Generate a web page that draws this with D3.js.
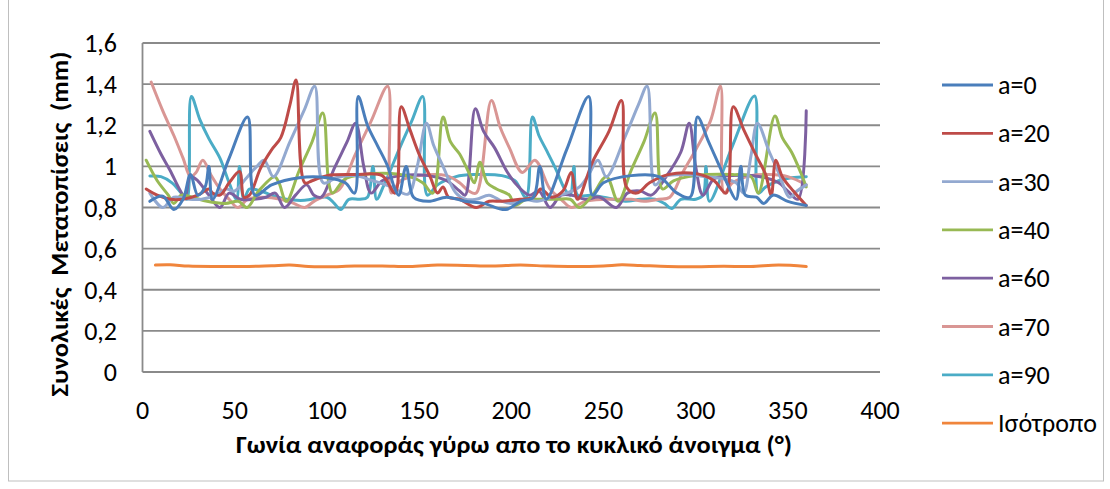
<!DOCTYPE html>
<html><head><meta charset="utf-8">
<script src="https://cdn.jsdelivr.net/npm/d3@7"></script>
<style>
html,body{margin:0;padding:0;background:#fff;}
svg text{font-family:Carlito, Calibri, "Liberation Sans", Arial, sans-serif;fill:#000;white-space:pre;}
</style></head>
<body><svg id="chart" width="1110" height="489"></svg>
<script>
// ---- data ----
const seriesNames = ["a=0","a=20","a=30","a=40","a=60","a=70","a=90","Ισότροπο"];
const seriesColors = ["#4A7EBB","#BE4B48","#93A9D0","#98B954","#7D60A0","#D99694","#4BACC6","#F0853C"];
const xTicks = [0,50,100,150,200,250,300,350,400];
const yTicks = [0,0.2,0.4,0.6,0.8,1,1.2,1.4,1.6];
const yTickLabels = ["0","0,2","0,4","0,6","0,8","1","1,2","1,4","1,6"];
const xTitle = "Γωνία αναφοράς γύρω απο το κυκλικό άνοιγμα (°)";
const yTitle = "Συνολικές  Μετατοπίσεις  (mm)";

const a0 = [[4,0.83],[11,0.855],[17,0.79],[22,0.84],[26,0.96],[30,0.86],[34,0.9],[36,1.0],[38,0.84],[47,1.04],[57,1.24],[61,0.86],[70,0.91],[85,0.945],[100,0.945],[110,0.92],[115,0.87],[117,1.34],[122,1.2],[127.5,1.1],[133,1.0],[136.5,0.9],[139,0.86],[143,1.0],[147,0.85],[155,0.83],[165,0.85],[175,0.83],[185,0.82],[197,0.79],[205,0.83],[212,0.85],[215.5,1.0],[219,0.84],[230,1.08],[242,1.34],[244,0.86],[250,0.92],[265,0.955],[280,0.95],[290,0.87],[297,0.85],[301,1.24],[307,1.12],[313,1.0],[318,0.9],[322,0.84],[324.5,1.0],[327,0.86],[333,0.85],[337,0.82],[342,0.86],[350,0.83],[360,0.81]];
const a20 = [[2,0.89],[8,0.86],[15,0.84],[22,0.84],[30,0.86],[36,0.89],[38,0.87],[42,0.86],[47,0.92],[52.6,0.975],[55,0.85],[58,0.86],[64,0.99],[70,1.08],[75,1.14],[80,1.3],[83.3,1.42],[88,0.92],[92,0.93],[100,0.955],[115,0.96],[130,0.955],[137,0.87],[140.3,1.29],[145,1.18],[150,1.06],[156,0.95],[160,0.87],[163,0.9],[166,0.85],[172,0.84],[181,0.80],[188,0.83],[195,0.83],[205,0.84],[212,0.85],[216,0.89],[222,0.85],[228,0.88],[232.5,0.97],[236,0.84],[244,1.02],[253,1.17],[259.8,1.32],[262.5,0.9],[268,0.87],[275,0.92],[285,0.96],[300,0.965],[310,0.93],[316.5,0.87],[320.4,1.29],[326,1.18],[333,1.05],[338,0.96],[341,0.86],[343.5,1.03],[347,0.95],[353,0.88],[360,0.81]];
const a30 = [[4,0.87],[11,0.80],[17,0.85],[25,0.84],[32,0.84],[40,0.86],[45.5,0.89],[50,0.88],[56,0.94],[62,1.0],[66,1.03],[71,0.95],[80,1.12],[88,1.28],[93.4,1.39],[98,0.92],[105,0.945],[115,0.955],[125,0.93],[135,0.9],[144,0.865],[149,1.0],[154,1.21],[158,1.1],[163,1.0],[170,0.87],[175,0.84],[181,0.84],[188,0.86],[195,0.83],[200,0.82],[207,0.84],[214,0.83],[222,0.85],[230,0.87],[237,0.9],[242,0.96],[247,1.03],[251.6,0.95],[262,1.15],[269,1.3],[273.7,1.39],[278,0.91],[283,0.95],[295,0.96],[305,0.95],[315,0.94],[322,0.92],[326,0.87],[330,1.05],[333.5,1.21],[340,1.07],[345,0.97],[351,0.85],[355,0.88],[360,0.91]];
const a40 = [[2,1.03],[8,0.93],[14,0.86],[17,0.82],[21,0.86],[27,0.85],[35,0.83],[45,0.82],[52,0.83],[56.7,0.80],[63,0.88],[71.6,0.95],[74,0.92],[78,0.83],[85,0.98],[92,1.12],[97.8,1.26],[101,0.92],[103,0.87],[110,0.94],[120,0.96],[135,0.965],[145,0.95],[152,0.92],[157.5,0.87],[163,1.24],[167,1.12],[172,1.06],[177,0.97],[180,0.92],[183,1.02],[187,0.92],[192,0.89],[199,0.86],[202,0.81],[208,0.84],[215,0.84],[225,0.84],[232,0.84],[237,0.80],[244,0.86],[251.6,0.95],[258,0.83],[265,0.98],[272,1.12],[278,1.26],[282,0.89],[288,0.93],[300,0.955],[320,0.96],[330,0.95],[334,0.87],[343,1.245],[347,1.14],[352,1.07],[357,0.97],[360,0.9]];
const a60 = [[4,1.17],[10,1.06],[15,0.98],[20,0.89],[23,0.85],[26,0.95],[30,0.93],[36,0.86],[42,0.80],[47,0.87],[53,0.84],[60,0.84],[67,0.85],[72,0.87],[77,0.80],[83,0.86],[89,0.91],[93,0.86],[97,0.85],[104,0.99],[111,1.12],[115.6,1.21],[120,1.0],[124,0.87],[130,0.93],[140,0.955],[155,0.955],[165,0.93],[172,0.88],[175,0.86],[180.5,1.28],[185,1.17],[191,1.09],[198,0.97],[204,0.9],[210,0.86],[215,0.88],[221,0.80],[227,0.86],[233,0.86],[240,0.84],[248,0.85],[257,0.80],[263,0.87],[270,0.88],[276,0.86],[284,0.95],[292,1.07],[296.5,1.21],[300,1.0],[304,0.86],[310,0.94],[320,0.955],[335,0.95],[345,0.92],[350,0.88],[355.5,0.84],[360,1.27]];
const a70 = [[4.7,1.41],[11,1.27],[17,1.15],[22,1.04],[26,0.95],[29,0.97],[32.7,1.03],[37,0.96],[42,0.89],[47,0.84],[51.7,0.80],[57,0.84],[65,0.85],[75,0.84],[82,0.82],[88,0.80],[93,0.83],[100,0.86],[107,0.89],[115,1.05],[124,1.22],[133,1.39],[135,0.87],[140,0.93],[150,0.955],[165,0.955],[172,0.92],[177,0.88],[181,0.87],[189.2,1.32],[194,1.19],[199,1.09],[206,0.97],[212.8,1.03],[221,0.89],[227,0.84],[232.6,0.80],[240,0.83],[250,0.84],[258,0.84],[265,0.84],[272,0.83],[280,0.84],[286,0.85],[293,0.97],[300,1.08],[308,1.22],[313.5,1.39],[315.5,0.87],[320,0.92],[330,0.955],[340,0.96],[350,0.95],[360,0.91]];
const a90 = [[4,0.953],[10,0.95],[16,0.92],[21,0.87],[24,0.84],[26.5,1.34],[31,1.23],[36,1.135],[42,1.04],[47,0.92],[51,0.84],[52.6,1.0],[55,0.84],[58,0.89],[64,0.88],[70,0.86],[78,0.84],[88,0.835],[100,0.85],[104,0.82],[107.5,0.79],[112,0.84],[118,0.84],[122,0.85],[125,1.0],[127,0.84],[131,0.91],[140,1.1],[146,1.22],[152,1.34],[154.5,0.86],[160,0.91],[170,0.95],[180,0.96],[195,0.955],[202,0.93],[208,0.85],[211.5,1.24],[215,1.15],[219,1.08],[224,0.99],[229,0.89],[232,0.86],[234,1.0],[236,0.86],[243,0.86],[250,0.85],[262,0.83],[270,0.84],[278,0.84],[283,0.82],[287,0.795],[292,0.84],[300,0.84],[304,0.86],[305.6,1.0],[307.5,0.83],[320,1.1],[332,1.342],[334,0.87],[338,0.9],[345,0.93],[352,0.945],[360,0.95]];
const iso = [[7,0.52],[15,0.521],[25,0.515],[40,0.513],[55,0.513],[70,0.517],[80,0.52],[90,0.513],[100,0.512],[115,0.515],[130,0.516],[145,0.513],[160,0.52],[175,0.518],[190,0.515],[205,0.52],[220,0.515],[235,0.513],[250,0.516],[260,0.521],[270,0.518],[285,0.513],[300,0.512],[315,0.514],[330,0.513],[345,0.52],[360,0.513]];
const seriesData = [a0,a20,a30,a40,a60,a70,a90,iso];

// ---- drawing ----
const svg = d3.select("#chart");
const x = d3.scaleLinear().domain([0,400]).range([142.5,880]);
const y = d3.scaleLinear().domain([0,1.6]).range([372,43]);
const grid = "#8A8A8A";

// outer chart border
svg.append("rect").attr("x",8.5).attr("y",-2).attr("width",1095).attr("height",483)
  .attr("fill","none").attr("stroke","#BFBFBF").attr("stroke-width",1);

// gridlines
svg.append("g").selectAll("line").data(yTicks).join("line")
  .attr("x1",x(0)).attr("x2",x(400)).attr("y1",d=>y(d)).attr("y2",d=>y(d))
  .attr("stroke",grid).attr("stroke-width",1.8);
// left axis line
svg.append("line").attr("x1",x(0)).attr("x2",x(0)).attr("y1",y(1.6)).attr("y2",y(0))
  .attr("stroke",grid).attr("stroke-width",1.8);

// y tick labels
svg.append("g").selectAll("text").data(yTicks).join("text")
  .attr("x",117).attr("y",d=>y(d)).attr("dy","0.35em").attr("text-anchor","end")
  .attr("font-size",26).text((d,i)=>yTickLabels[i]);
// x tick labels
svg.append("g").selectAll("text").data(xTicks).join("text")
  .attr("x",d=>x(d)).attr("y",419).attr("text-anchor","middle")
  .attr("font-size",26).text(d=>d);

// axis titles
const xt = svg.append("text").attr("x",514).attr("y",453).attr("text-anchor","middle")
  .attr("font-size",24).attr("font-weight","bold").text(xTitle);
const yt = svg.append("text").attr("transform","translate(68,224) rotate(-90)")
  .attr("text-anchor","middle").attr("font-size",24).attr("font-weight","bold").text(yTitle);
function fitText(sel,w){const l=sel.node().getComputedTextLength(); if(Math.abs(l-w)>4){sel.attr("textLength",w).attr("lengthAdjust","spacingAndGlyphs");}}
fitText(xt,556); fitText(yt,345);

// series lines
const line = d3.line().x(d=>x(d[0])).y(d=>y(d[1])).curve(d3.curveCatmullRom.alpha(0.5));
const order = [7,6,5,4,3,2,1,0];
svg.append("g").selectAll("path").data(order).join("path")
  .attr("d",i=>line(seriesData[i])).attr("fill","none")
  .attr("stroke",i=>seriesColors[i]).attr("stroke-width",3)
  .attr("stroke-linejoin","round").attr("stroke-linecap","round");

// legend
const lg = svg.append("g").selectAll("g").data(seriesNames).join("g")
  .attr("transform",(d,i)=>`translate(0,${85+i*48.3})`);
lg.append("line").attr("x1",942).attr("x2",993).attr("y1",0).attr("y2",0)
  .attr("stroke",(d,i)=>seriesColors[i]).attr("stroke-width",2.8);
lg.append("text").attr("x",998).attr("y",0).attr("dy","0.35em").attr("font-size",26).text(d=>d);
</script></body></html>
